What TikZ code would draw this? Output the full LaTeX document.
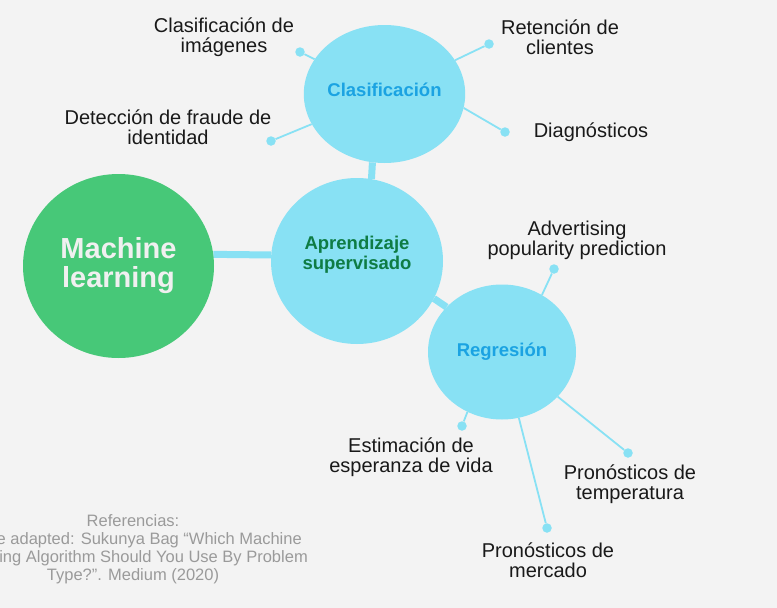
\documentclass[tikz,border=0pt]{standalone}
\usepackage{fontspec}
\setmainfont{Liberation Sans}
\usetikzlibrary{shapes.geometric}
\definecolor{paperbg}{HTML}{F3F3F3}
\definecolor{mlgreen}{HTML}{47C878}
\definecolor{skyfill}{HTML}{88E1F4}
\definecolor{supgreen}{HTML}{0E7C44}
\definecolor{clsblue}{HTML}{1BA3E2}
\definecolor{refgray}{HTML}{9A9A9A}
\pgfdeclarelayer{paper}
\pgfdeclarelayer{links}
\pgfsetlayers{paper,links,main}
\tikzset{
  bubble/.style={ellipse, fill=skyfill, inner sep=0pt, align=center,
    font=\bfseries\fontsize{18.5}{19.5}\selectfont},
  trunk/.style={line width=7pt, skyfill},
  twig/.style={line width=1.8pt, skyfill},
  tipdot/.style={circle, fill=skyfill, inner sep=0pt, minimum size=9.5pt},
  leaf/.style={align=center, text=black!90, font=\fontsize{20}{20}\selectfont},
  reftxt/.style={text=refgray, inner sep=0pt, font=\fontsize{16.5}{18}\selectfont},
}

\begin{document}
\begin{tikzpicture}[x=1pt, y=-1pt]
        \begin{pgfonlayer}{paper}
          \fill[paperbg] (0,0) rectangle (777,608);
        \end{pgfonlayer}
        \useasboundingbox (0,0) rectangle (777,608);
        % main bubbles
        \node[ellipse, fill=mlgreen, inner sep=0pt, minimum width=191pt,
          minimum height=184pt, align=center, text=white!94!black,
          font=\bfseries\fontsize{29}{29}\selectfont] (ml) at (118.5,266)
          {Machine\\learning};
        \node[bubble, minimum width=172pt, minimum height=166pt,
          text depth=16pt, text=supgreen] (sup) at (357,261)
          {Aprendizaje\\supervisado};
        \node[bubble, minimum width=149pt, minimum height=138pt,
          text depth=8pt, text=clsblue] (cls) at (384.5,94) {Clasificación};
        \node[bubble, minimum width=148pt, minimum height=135pt,
          text=clsblue] (reg) at (502,352) {Regresión};
        % end dots of the twigs
        \node[tipdot] (tip-img) at (300,52) {};
        \node[tipdot] (tip-ret) at (489,44) {};
        \node[tipdot] (tip-fra) at (271,141) {};
        \node[tipdot] (tip-dia) at (505,132) {};
        \node[tipdot] (tip-adv) at (554,269) {};
        \node[tipdot] (tip-vid) at (462,426) {};
        \node[tipdot] (tip-tem) at (628,453) {};
        \node[tipdot] (tip-mer) at (547,528) {};
        % leaf labels
        \node[leaf] (lbl-img) at (224,37) {Clasificación de\\imágenes};
        \node[leaf] (lbl-ret) at (560,37) {Retención de\\clientes};
        \node[leaf] (lbl-fra) at (168,127) {Detección de fraude de\\identidad};
        \node[leaf] (lbl-dia) at (591,132) {Diagnósticos};
        \node[leaf] (lbl-adv) at (577,240) {Advertising\\popularity prediction};
        \node[leaf] (lbl-vid) at (411,457) {Estimación de\\esperanza de vida};
        \node[leaf] (lbl-tem) at (630,484) {Pronósticos de\\temperatura};
        \node[leaf] (lbl-mer) at (548,560) {Pronósticos de\\mercado};
        % reference note, cut by the left edge
        \node[reftxt] (ref-a) at (133,521) {Referencias:};
        \node[reftxt, anchor=east] (ref-b) at (302,540)
          {e adapted: Sukunya Bag “Which Machine};
        \node[reftxt, anchor=east] (ref-c) at (308,558)
          {ing Algorithm Should You Use By Problem};
        \node[reftxt] (ref-d) at (133,576) {Type?”. Medium (2020)};
        % connectors (under the bubbles)
        \begin{pgfonlayer}{links}
          \draw[trunk] (ml.7) -- (sup.176);
          \draw[trunk] (cls.-100) -- (sup.80);
          \draw[trunk] (sup.-26) -- (reg.141);
          \draw[twig] (cls) -- (tip-img);
          \draw[twig] (cls) -- (tip-ret);
          \draw[twig] (cls) -- (tip-fra);
          \draw[twig] (cls.-10) -- (tip-dia);
          \draw[twig] (reg.55) -- (tip-adv);
          \draw[twig] (reg.-120) -- (tip-vid);
          \draw[twig] (reg) -- (tip-tem);
          \draw[twig] (reg) -- (tip-mer);
        \end{pgfonlayer}
      \end{tikzpicture}
\end{document}
